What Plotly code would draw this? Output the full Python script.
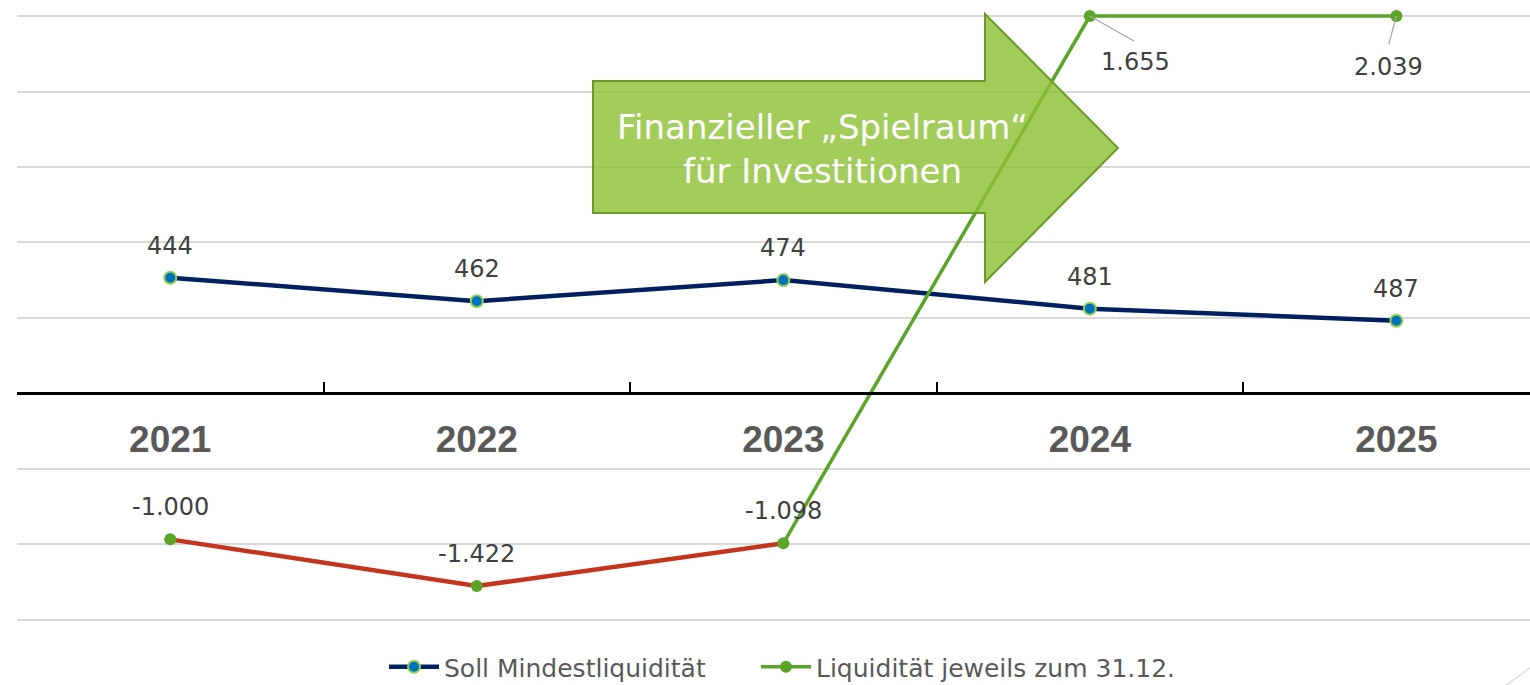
import plotly.graph_objects as go

# ---- data ----
years = ["2021", "2022", "2023", "2024", "2025"]
# positions (gridlines every 500, axis at 0)
soll_values = [767, 611, 751, 562, 482]
soll_labels = ["444", "462", "474", "481", "487"]
liq_values = [-966, -1275, -992, 2500, 2500]
liq_labels = ["-1.000", "-1.422", "-1.098", "1.655", "2.039"]
grid_vals = [-1500, -1000, -500, 0, 500, 1000, 1500, 2000, 2500]

W, H = 1530, 685
ML, MR, MT, MB = 17, 0, 8, 62
Y_MIN, Y_MAX = -1520, 2553
X_MAX = 4.436

def px(xp, yp):
    """pixel -> paper coords"""
    return (xp - ML) / (W - ML - MR), (H - MB - yp) / (H - MT - MB)

NAVY = "#002060"
BLUE = "#0070C0"
LIME = "#92D050"
GREEN = "#5AA427"
RED = "#C5341C"
LABEL = "#404040"
GREY = "#595959"

idx = list(range(len(years)))

fig = go.Figure()
fig.add_trace(go.Scatter(
    x=years, y=soll_values, mode="lines+markers", name="Soll Mindestliquidität",
    line=dict(color=NAVY, width=4.5),
    marker=dict(size=12, color=BLUE, line=dict(color=LIME, width=2)),
    cliponaxis=False, hoverinfo="skip", legend="legend"))
fig.add_trace(go.Scatter(
    x=years[:3], y=liq_values[:3], mode="lines", showlegend=False,
    line=dict(color=RED, width=4.5), hoverinfo="skip"))
fig.add_trace(go.Scatter(
    x=years[2:], y=liq_values[2:], mode="lines+markers",
    name="Liquidität jeweils zum 31.12.",
    line=dict(color=GREEN, width=3.5),
    marker=dict(size=12, color=GREEN),
    cliponaxis=False, hoverinfo="skip", legend="legend2"))
fig.add_trace(go.Scatter(
    x=years[:2], y=liq_values[:2], mode="markers", showlegend=False,
    marker=dict(size=12, color=GREEN), cliponaxis=False, hoverinfo="skip"))

lab_font = dict(family="DejaVu Sans", size=24, color=LABEL)
annotations = []
for i in idx:
    annotations.append(dict(x=i, y=soll_values[i], xref="x", yref="y",
                            text=soll_labels[i], showarrow=False,
                            yshift=32, font=lab_font))
for i in idx[:3]:
    annotations.append(dict(x=i, y=liq_values[i], xref="x", yref="y",
                            text=liq_labels[i], showarrow=False,
                            yshift=32, font=lab_font))
# labels for the clipped points sit below them, connected by leader lines
leader_end = [(46, 26), (-8, 30)]
label_off = [(46, -46), (-8, -51)]
for j, i in enumerate(idx[3:]):
    annotations.append(dict(x=i, y=liq_values[i], xref="x", yref="y",
                            text="", showarrow=True, arrowhead=0,
                            arrowwidth=1.2, arrowcolor="#A6A6A6",
                            ax=leader_end[j][0], ay=leader_end[j][1],
                            standoff=0, startstandoff=0))
    annotations.append(dict(x=i, y=liq_values[i], xref="x", yref="y",
                            text=liq_labels[i], showarrow=False,
                            xshift=label_off[j][0], yshift=label_off[j][1],
                            font=lab_font))

# arrow callout text
tx, ty = px(823, 149)
annotations.append(dict(x=tx, y=ty, xref="paper", yref="paper",
                        xanchor="center", yanchor="middle",
                        text="Finanzieller „Spielraum“<br>für Investitionen",
                        showarrow=False,
                        font=dict(family="DejaVu Sans", size=34, color="white")))

# arrow shape
pts = [(593, 81), (985, 81), (985, 14), (1118, 148), (985, 282), (985, 213), (593, 213)]
pp = [px(a, b) for a, b in pts]
path = "M " + " L ".join(f"{a:.5f},{b:.5f}" for a, b in pp) + " Z"
d1 = px(1505, 686)
d2 = px(1531, 667)
shapes = [
    dict(type="path", xref="paper", yref="paper", path=path,
         fillcolor="rgba(140,193,50,0.80)", line=dict(color="#6B9B2A", width=2),
         layer="above"),
    dict(type="line", xref="paper", yref="paper", x0=d1[0], y0=d1[1],
         x1=d2[0], y1=d2[1], line=dict(color="#D9D9D9", width=1.2)),
]

zero_pos = (0 - Y_MIN) / (Y_MAX - Y_MIN)
l1x, l1y = px(384, 667)
l2x, l2y = px(756, 667)
leg_common = dict(orientation="h", xanchor="left", yanchor="middle",
                  font=dict(family="DejaVu Sans", size=25, color=GREY),
                  itemwidth=50, bgcolor="rgba(0,0,0,0)")

fig.update_layout(
    width=W, height=H,
    margin=dict(l=ML, r=MR, t=MT, b=MB, pad=0, autoexpand=False),
    plot_bgcolor="white", paper_bgcolor="white",
    showlegend=True,
    legend=dict(x=l1x, y=l1y, **leg_common),
    legend2=dict(x=l2x, y=l2y, **leg_common),
    xaxis=dict(type="category", range=[-0.5, X_MAX], anchor="free",
               position=zero_pos, showline=True, linecolor="black",
               linewidth=2.5, ticks="inside", ticklen=11, tickwidth=2,
               tickcolor="black", tickson="boundaries", showgrid=False,
               tickfont=dict(family="Liberation Sans", size=37, color=GREY,
                             weight="bold"),
               ticklabelstandoff=12, fixedrange=True),
    yaxis=dict(range=[Y_MIN, Y_MAX], tickvals=grid_vals, showticklabels=False,
               showgrid=True, gridcolor="#D9D9D9", gridwidth=1.5,
               zeroline=False, showline=False, fixedrange=True),
    annotations=annotations,
    shapes=shapes,
)

fig.write_html("out.html",
               config={"displayModeBar": False},
               post_script="document.body.style.margin='0';"
                           "document.body.style.overflow='hidden';")
